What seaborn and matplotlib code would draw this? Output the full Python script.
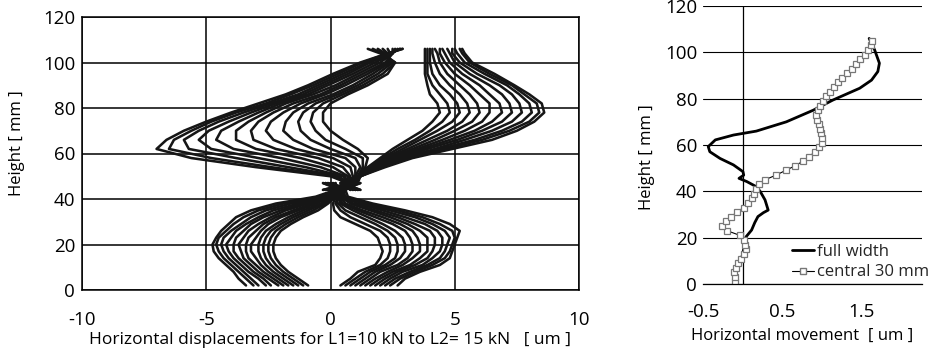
import numpy as np
import pandas as pd
import matplotlib
matplotlib.use("Agg")
import matplotlib.pyplot as plt
import seaborn as sns
from matplotlib.lines import Line2D

sns.set_theme(style="white")
plt.rcParams['font.family'] = ['Open Sans', 'DejaVu Sans']

# ---------------- Left panel data: displacement profiles (um) ----------------
h_upper = [44, 47, 50, 54, 58, 62, 66, 70, 74, 78, 82, 86, 90, 95, 100, 104, 106]
upper_left = [
    [-0.2, 0.8, 1.1, 1.4, 1.5, 1.1, 0.5, 0.0, -0.3, -0.3, 0.0, 0.7, 1.5, 2.3, 2.6, 2.0, 1.5],
    [1.0, 0.6, 1.1, 1.3, 1.3, 0.6, -0.2, -0.6, -0.8, -0.7, -0.3, 0.5, 1.3, 2.1, 2.6, 2.1, 1.7],
    [0.0, 1.0, 1.0, 1.2, 1.0, 0.0, -0.8, -1.2, -1.3, -1.1, -0.6, 0.3, 1.1, 1.9, 2.5, 2.2, 1.9],
    [1.2, 0.5, 1.0, 1.0, 0.6, -0.7, -1.5, -1.9, -1.8, -1.5, -0.9, 0.1, 0.9, 1.7, 2.4, 2.3, 2.1],
    [-0.3, 0.9, 0.9, 0.8, 0.1, -1.4, -2.3, -2.6, -2.4, -1.9, -1.2, -0.2, 0.6, 1.5, 2.3, 2.4, 2.3],
    [0.9, 0.4, 0.8, 0.5, -0.5, -2.2, -3.1, -3.2, -2.9, -2.3, -1.5, -0.4, 0.4, 1.3, 2.2, 2.5, 2.5],
    [0.1, 1.1, 0.7, 0.1, -1.2, -3.0, -3.8, -3.8, -3.3, -2.6, -1.8, -0.7, 0.2, 1.1, 2.0, 2.5, 2.6],
    [1.1, 0.6, 0.6, -0.4, -2.0, -3.9, -4.6, -4.4, -3.7, -2.9, -2.0, -0.9, -0.1, 0.9, 1.8, 2.5, 2.7],
    [-0.1, 0.8, 0.5, -1.0, -2.9, -4.8, -5.3, -4.9, -4.1, -3.2, -2.2, -1.1, -0.3, 0.7, 1.6, 2.4, 2.8],
    [0.8, 0.5, 0.4, -1.7, -3.8, -5.7, -5.9, -5.3, -4.5, -3.5, -2.4, -1.3, -0.5, 0.5, 1.5, 2.4, 2.8],
    [0.2, 0.9, 0.2, -2.4, -4.8, -6.5, -6.3, -5.6, -4.8, -3.8, -2.6, -1.6, -0.7, 0.3, 1.3, 2.3, 2.9],
    [1.0, 0.7, 0.0, -3.0, -5.6, -7.0, -6.6, -5.9, -5.0, -4.0, -2.9, -1.8, -0.9, 0.1, 1.2, 2.3, 2.9],
]
upper_right = [
    [1.1, 0.5, 1.1, 1.5, 2.0, 2.5, 3.1, 3.7, 4.1, 4.4, 4.3, 4.0, 3.9, 3.8, 3.8, 3.8, 3.8],
    [-0.2, 0.9, 1.1, 1.6, 2.1, 2.7, 3.4, 4.0, 4.5, 4.8, 4.7, 4.4, 4.1, 3.9, 3.9, 3.9, 3.9],
    [0.9, 0.6, 1.2, 1.6, 2.2, 2.9, 3.6, 4.3, 4.9, 5.2, 5.1, 4.8, 4.4, 4.1, 4.0, 4.0, 4.0],
    [0.0, 1.0, 1.2, 1.7, 2.3, 3.1, 3.9, 4.7, 5.3, 5.6, 5.5, 5.2, 4.8, 4.4, 4.2, 4.1, 4.1],
    [1.2, 0.4, 1.2, 1.7, 2.4, 3.3, 4.2, 5.0, 5.7, 6.0, 5.9, 5.6, 5.2, 4.7, 4.4, 4.3, 4.2],
    [-0.3, 0.8, 1.2, 1.8, 2.5, 3.5, 4.5, 5.4, 6.1, 6.4, 6.4, 6.0, 5.6, 5.0, 4.6, 4.4, 4.4],
    [1.0, 0.6, 1.2, 1.8, 2.6, 3.7, 4.8, 5.8, 6.5, 6.9, 6.8, 6.4, 6.0, 5.3, 4.8, 4.6, 4.5],
    [0.1, 1.1, 1.2, 1.9, 2.8, 3.9, 5.1, 6.1, 6.9, 7.3, 7.2, 6.9, 6.4, 5.6, 5.0, 4.8, 4.7],
    [0.8, 0.5, 1.2, 1.9, 2.9, 4.2, 5.4, 6.5, 7.3, 7.7, 7.6, 7.3, 6.8, 5.9, 5.2, 4.9, 4.9],
    [-0.1, 0.9, 1.2, 2.0, 3.0, 4.4, 5.8, 6.9, 7.7, 8.1, 8.0, 7.6, 7.1, 6.2, 5.4, 5.1, 5.0],
    [1.1, 0.7, 1.2, 2.1, 3.2, 4.6, 6.1, 7.2, 8.0, 8.4, 8.3, 7.8, 7.3, 6.4, 5.6, 5.3, 5.2],
    [0.2, 1.0, 1.2, 2.2, 3.3, 4.9, 6.5, 7.5, 8.2, 8.6, 8.5, 8.0, 7.4, 6.6, 5.7, 5.4, 5.3],
]
h_lower = [2, 5, 8, 11, 14, 17, 20, 23, 26, 29, 32, 35, 38, 41, 44, 47]
lower_left = [
    [-0.9, -1.3, -1.7, -2.0, -2.2, -2.3, -2.3, -2.2, -2.0, -1.6, -1.1, -0.5, -0.1, 0.2, 0.4, 1.0],
    [-1.1, -1.5, -1.9, -2.2, -2.4, -2.5, -2.5, -2.4, -2.2, -1.8, -1.3, -0.7, -0.2, 0.1, 0.5, -0.2],
    [-1.3, -1.7, -2.1, -2.4, -2.6, -2.7, -2.7, -2.6, -2.4, -2.0, -1.5, -0.9, -0.3, 0.2, 0.3, 0.8],
    [-1.5, -1.9, -2.3, -2.6, -2.8, -2.9, -2.9, -2.8, -2.6, -2.2, -1.7, -1.1, -0.4, 0.1, 0.6, 0.0],
    [-1.7, -2.1, -2.5, -2.8, -3.0, -3.2, -3.2, -3.0, -2.8, -2.5, -2.0, -1.3, -0.6, 0.0, 0.4, 1.2],
    [-1.9, -2.3, -2.7, -3.0, -3.3, -3.4, -3.4, -3.3, -3.0, -2.7, -2.2, -1.5, -0.7, 0.1, 0.5, -0.3],
    [-2.1, -2.5, -2.9, -3.2, -3.5, -3.6, -3.7, -3.5, -3.3, -2.9, -2.4, -1.8, -0.9, 0.0, 0.3, 0.9],
    [-2.4, -2.7, -3.1, -3.4, -3.7, -3.9, -3.9, -3.8, -3.5, -3.2, -2.7, -2.0, -1.1, -0.1, 0.6, 0.1],
    [-2.6, -2.9, -3.3, -3.6, -3.9, -4.1, -4.2, -4.0, -3.8, -3.4, -2.9, -2.3, -1.3, -0.2, 0.4, 1.1],
    [-2.9, -3.2, -3.5, -3.8, -4.1, -4.3, -4.4, -4.3, -4.0, -3.6, -3.2, -2.6, -1.6, -0.3, 0.5, -0.1],
    [-3.1, -3.4, -3.7, -4.0, -4.3, -4.5, -4.6, -4.5, -4.2, -3.9, -3.5, -2.9, -1.9, -0.4, 0.3, 0.7],
    [-3.4, -3.7, -3.9, -4.2, -4.5, -4.7, -4.75, -4.6, -4.4, -4.1, -3.8, -3.2, -2.2, -0.6, 0.2, 0.2],
]
lower_right = [
    [0.4, 0.8, 1.1, 1.8, 2.0, 2.1, 2.0, 1.9, 1.6, 1.0, 0.4, 0.15, 0.1, 0.2, 0.4, -0.2],
    [0.6, 1.0, 1.4, 2.0, 2.3, 2.4, 2.4, 2.3, 2.0, 1.4, 0.8, 0.4, 0.2, 0.3, 0.5, 1.1],
    [0.8, 1.2, 1.6, 2.2, 2.6, 2.7, 2.7, 2.6, 2.3, 1.8, 1.2, 0.6, 0.3, 0.2, 0.3, 0.0],
    [1.0, 1.4, 1.8, 2.4, 2.8, 3.0, 3.0, 2.9, 2.6, 2.1, 1.5, 0.9, 0.4, 0.3, 0.6, 0.9],
    [1.2, 1.6, 2.0, 2.7, 3.1, 3.3, 3.3, 3.2, 3.0, 2.5, 1.8, 1.1, 0.5, 0.3, 0.4, -0.3],
    [1.4, 1.8, 2.3, 2.9, 3.3, 3.6, 3.6, 3.5, 3.3, 2.8, 2.1, 1.3, 0.6, 0.4, 0.5, 1.2],
    [1.6, 2.0, 2.5, 3.2, 3.6, 3.9, 3.9, 3.9, 3.6, 3.1, 2.4, 1.6, 0.8, 0.4, 0.3, 0.1],
    [1.8, 2.2, 2.7, 3.4, 3.9, 4.1, 4.2, 4.2, 4.0, 3.4, 2.7, 1.8, 0.9, 0.5, 0.6, 1.0],
    [2.0, 2.4, 2.9, 3.7, 4.1, 4.4, 4.5, 4.5, 4.3, 3.8, 3.0, 2.1, 1.1, 0.5, 0.4, -0.1],
    [2.2, 2.6, 3.2, 3.9, 4.4, 4.6, 4.7, 4.8, 4.6, 4.1, 3.4, 2.4, 1.3, 0.6, 0.5, 0.8],
    [2.4, 2.8, 3.4, 4.1, 4.6, 4.8, 4.9, 5.0, 4.9, 4.4, 3.7, 2.7, 1.5, 0.6, 0.3, 0.2],
    [2.7, 3.0, 3.6, 4.4, 4.8, 4.9, 5.0, 5.1, 5.2, 4.8, 4.1, 3.0, 1.7, 0.7, 0.6, 1.1],
]

# ---------------- Right panel data ----------------
full_h = [3.2, 5.3, 8.9, 13.2, 17.6, 20.4, 23.3, 26.5, 29.1, 30.8, 31.9, 36.3, 39.9, 42.0,
          44.2, 45.6, 47.0, 48.5, 51.4, 54.2, 57.1, 59.3, 62.2, 64.3, 66.0, 70.0, 75.0,
          79.4, 84.5, 88.0, 91.7, 95.3, 101.0, 106.0]
full_x = [-0.10, -0.08, -0.04, 0.00, 0.02, 0.04, 0.11, 0.15, 0.19, 0.26, 0.32, 0.28, 0.22, 0.17,
          0.05, -0.05, 0.01, 0.00, -0.12, -0.29, -0.42, -0.44, -0.35, -0.12, 0.17, 0.55, 0.89,
          1.14, 1.48, 1.63, 1.71, 1.73, 1.67, 1.60]
central_h = [1, 3, 5, 7, 9, 11, 13, 15, 17, 19, 21, 23, 25, 27, 29, 31, 33, 35, 37, 39, 41,
             43, 45, 47, 49, 51, 53, 55, 57, 59, 61, 63, 65, 67, 69, 71, 73, 75, 77, 79, 81,
             83, 85, 87, 89, 91, 93, 95, 97, 99, 101, 103, 105]
central_x = [-0.10, -0.10, -0.11, -0.09, -0.06, -0.02, 0.01, 0.04, 0.03, 0.01, -0.04, -0.20,
             -0.27, -0.22, -0.15, -0.08, 0.01, 0.07, 0.11, 0.14, 0.16, 0.20, 0.28, 0.42, 0.54,
             0.66, 0.76, 0.84, 0.91, 0.97, 1.00, 1.00, 0.99, 0.98, 0.96, 0.94, 0.93, 0.95, 0.98,
             1.02, 1.05, 1.10, 1.15, 1.20, 1.26, 1.32, 1.38, 1.43, 1.49, 1.55, 1.59, 1.62, 1.64]

left_xticks = [-10, -5, 0, 5, 10]
right_xticks = [-0.5, 0.5, 1.5]
yticks = [0, 20, 40, 60, 80, 100, 120]


def family_frame(heights, curves, tag):
    rows = []
    for k, xs in enumerate(curves):
        for h, x in zip(heights, xs):
            rows.append((x, h, f"{tag}{k}"))
    return pd.DataFrame(rows, columns=["x", "h", "unit"])


W, H = 937, 359
fig = plt.figure(figsize=(W / 100, H / 100), dpi=100)
INK = "#161616"
TFS = 13.5

# ---------------- Left axes ----------------
ax = fig.add_axes([82 / W, 1 - 290 / H, 497 / W, 273 / H])
for tag, hs, fam in [("ul", h_upper, upper_left), ("ur", h_upper, upper_right),
                     ("ll", h_lower, lower_left), ("lr", h_lower, lower_right)]:
    df = family_frame(hs, fam, tag)
    sns.lineplot(data=df, x="x", y="h", units="unit", estimator=None, sort=False,
                 color=INK, lw=1.85, ax=ax, legend=False)
ax.set_xlim(-10, 10)
ax.set_ylim(0, 120)
ax.set_xticks(left_xticks)
ax.set_xticklabels([str(v) for v in left_xticks])
ax.set_yticks(yticks)
ax.grid(True, color="black", lw=1.1)
ax.set_axisbelow(True)
for s in ax.spines.values():
    s.set_visible(True)
    s.set_color("black")
    s.set_linewidth(1.1)
ax.tick_params(axis="both", direction="out", length=4, width=1.0, colors="black",
               labelsize=TFS, pad=1)
ax.tick_params(axis="x", pad=11)
ax.set_xlabel("")
ax.set_ylabel("")
fig.text(330 / W, 1 - 340 / H, "Horizontal displacements for L1=10 kN to L2= 15 kN   [ um ]",
         ha="center", va="center", fontsize=12.5, color="black")
fig.text(17 / W, 1 - 143 / H, "Height [ mm ]", rotation=90, ha="center", va="center",
         fontsize=12, color="black")

# ---------------- Right axes ----------------
ax2 = fig.add_axes([703.5 / W, 1 - 284 / H, 218.5 / W, 278 / H])
sns.lineplot(x=full_x, y=full_h, sort=False, estimator=None, color="black", lw=2.0,
             ax=ax2, legend=False)
sns.lineplot(x=central_x, y=central_h, sort=False, estimator=None, color="black", lw=0.8,
             marker="s", markersize=5, markerfacecolor="white", markeredgecolor="#777777",
             markeredgewidth=0.9, ax=ax2, legend=False)
ax2.set_xlim(-0.5, 2.27)
ax2.set_ylim(0, 120)
ax2.set_xticks(right_xticks)
ax2.set_xticklabels([str(v) for v in right_xticks])
ax2.set_yticks(yticks)
ax2.yaxis.grid(True, color="black", lw=0.8)
ax2.xaxis.grid(False)
ax2.set_axisbelow(True)
ax2.axvline(0, color="black", lw=0.9, zorder=1)
for side in ["left", "right", "top"]:
    ax2.spines[side].set_visible(False)
ax2.spines["bottom"].set_color("black")
ax2.spines["bottom"].set_linewidth(0.9)
ax2.tick_params(axis="x", direction="out", length=3, width=0.8, colors="black",
                labelsize=TFS, pad=11)
ax2.tick_params(axis="y", length=0, colors="black", labelsize=TFS, pad=4.5)
ax2.set_xlabel("")
ax2.set_ylabel("")
fig.text(802 / W, 1 - 336 / H, "Horizontal movement  [ um ]", ha="center", va="center",
         fontsize=12, color="black")
fig.text(647 / W, 1 - 157 / H, "Height [ mm ]", rotation=90, ha="center", va="center",
         fontsize=12, color="black")

handles = [Line2D([], [], color="black", lw=2.0),
           Line2D([], [], color="black", lw=0.8, marker="s", markersize=5,
                  markerfacecolor="white", markeredgecolor="#777777")]
ax2.legend(handles, ["full width", "central 30 mm"], loc="center left",
           bbox_to_anchor=(792 / W, 1 - 262 / H), bbox_transform=fig.transFigure,
           frameon=False, fontsize=12, handlelength=1.3, handletextpad=0.2,
           labelspacing=0.3, borderpad=0, borderaxespad=0)

fig.savefig("out.png", dpi=100)
